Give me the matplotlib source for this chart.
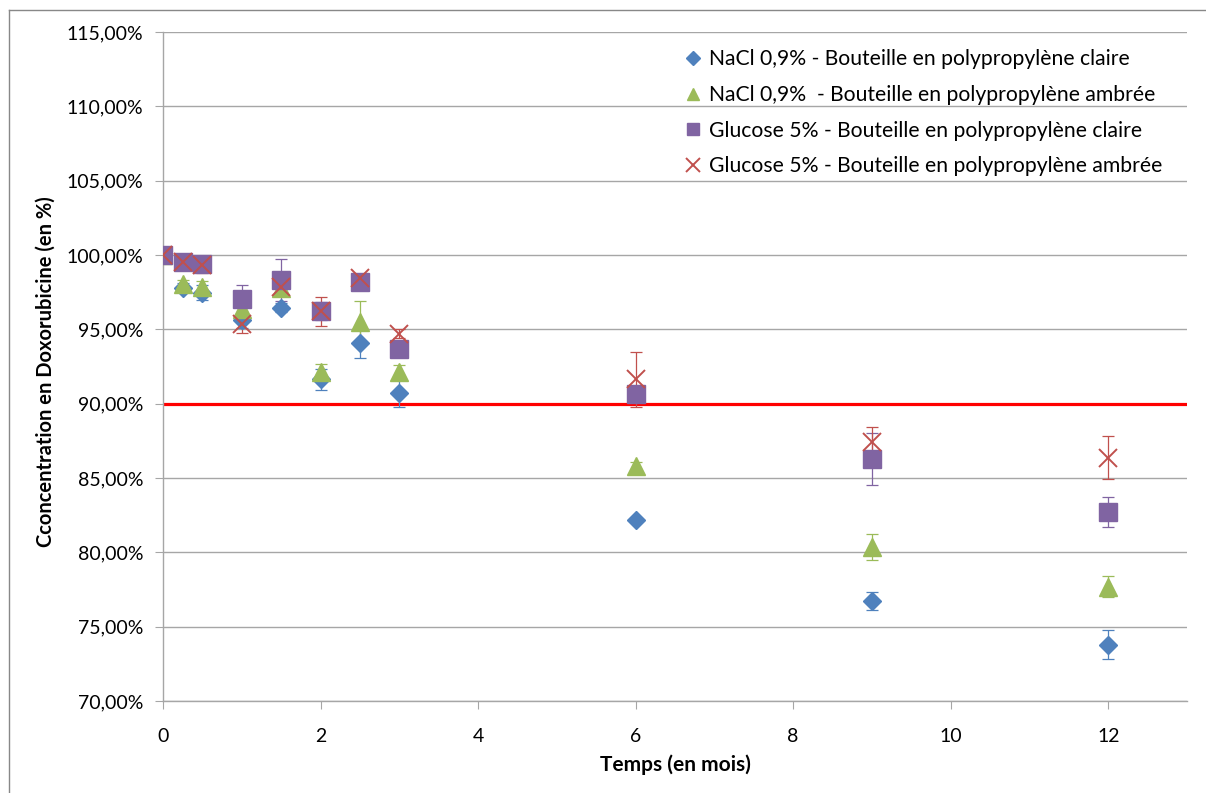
import matplotlib
matplotlib.use("Agg")
import matplotlib.pyplot as plt
from matplotlib.ticker import FuncFormatter, MultipleLocator
from matplotlib.lines import Line2D

plt.rcParams['font.family'] = ['Lato', 'DejaVu Sans']

# Data
temps = [0, 0.25, 0.5, 1, 1.5, 2, 2.5, 3, 6, 9, 12]

nacl_claire = [100.0, 97.8, 97.45, 95.6, 96.45, 91.65, 94.05, 90.75, 82.15, 76.7, 73.8]
nacl_claire_err = [0.1, 0.3, 0.5, 0.5, 0.3, 0.7, 1.0, 0.95, 0.1, 0.6, 1.0]

nacl_ambree = [100.0, 98.05, 97.85, 96.35, 97.8, 92.1, 95.5, 92.1, 85.8, 80.35, 77.7]
nacl_ambree_err = [0.1, 0.3, 0.4, 0.4, 0.3, 0.6, 1.4, 0.5, 0.3, 0.85, 0.7]

gluc_claire = [100.0, 99.5, 99.37, 97.05, 98.3, 96.25, 98.2, 93.65, 90.65, 86.25, 82.7]
gluc_claire_err = [0.1, 0.3, 0.4, 0.95, 1.4, 0.6, 0.4, 0.5, 0.5, 1.75, 1.0]

gluc_ambree = [100.0, 99.5, 99.3, 95.35, 97.85, 96.2, 98.45, 94.7, 91.65, 87.45, 86.35]
gluc_ambree_err = [0.1, 0.3, 0.5, 0.6, 0.4, 1.0, 0.3, 0.3, 1.85, 1.0, 1.45]

labels = ["NaCl 0,9% - Bouteille en polypropylène claire",
          "NaCl 0,9%  - Bouteille en polypropylène ambrée",
          "Glucose 5% - Bouteille en polypropylène claire",
          "Glucose 5% - Bouteille en polypropylène ambrée"]

limit = 90.0

blue = '#4F81BD'
green = '#9BBB59'
purple = '#8064A2'
red = '#C0504D'

fig = plt.figure(figsize=(12.06, 7.93), dpi=100)
ax = fig.add_axes([163/1206, 1-701/793, (1187-163)/1206, (701-32)/793])

# figure border (left/top visible)
fig.add_artist(Line2D([9/1206, 9/1206], [0, 1-10/793], transform=fig.transFigure, color='#888888', lw=1))
fig.add_artist(Line2D([9/1206, 1], [1-10/793, 1-10/793], transform=fig.transFigure, color='#888888', lw=1))

ax.axhline(limit, color='#FF0000', lw=2.3, zorder=2)

series = [
    (nacl_claire, nacl_claire_err, 'D', 9.0, blue, dict(markeredgecolor=blue)),
    (nacl_ambree, nacl_ambree_err, '^', 13.5, green, dict(markeredgecolor=green)),
    (gluc_claire, gluc_claire_err, 's', 12.5, purple, dict(markeredgecolor=purple)),
    (gluc_ambree, gluc_ambree_err, 'x', 13.5, red, dict(markeredgewidth=1.4)),
]
handles = []
for (vals, err, m, ms, c, kw), lab in zip(series, labels):
    ax.errorbar(temps, vals, yerr=err, fmt='none', ecolor=c, elinewidth=0.9,
                capsize=4, capthick=0.9, zorder=3)
    h, = ax.plot(temps, vals, linestyle='none', marker=m, markersize=ms, color=c,
                 label=lab, zorder=4, **kw)
    handles.append(h)

ax.set_xlim(0, 13)
ax.set_ylim(70, 115)
ax.xaxis.set_major_locator(MultipleLocator(2))
ax.yaxis.set_major_locator(MultipleLocator(5))
ax.yaxis.set_major_formatter(FuncFormatter(lambda v, p: f"{v:.2f}".replace('.', ',') + '%'))

ax.grid(axis='y', color='#A6A6A6', lw=1)
ax.set_axisbelow(True)
for s in ['top', 'right']:
    ax.spines[s].set_visible(False)
for s in ['left', 'bottom']:
    ax.spines[s].set_color('#A6A6A6')
    ax.spines[s].set_linewidth(1)
ax.tick_params(axis='both', direction='out', length=5.5, color='#A6A6A6', labelsize=14,
               labelcolor='#000000')
ax.tick_params(axis='y', pad=8.5)
ax.tick_params(axis='x', pad=14)

ax.set_xlabel('Temps (en mois)', fontsize=15, fontweight='bold', labelpad=7)
ax.set_ylabel('Cconcentration en Doxorubicine (en %)', fontsize=14.5, fontweight='bold')
ax.yaxis.set_label_coords(-0.105, 0.493)

leg = ax.legend(handles=handles, loc='upper left', bbox_to_anchor=(676/1206, 1-41/793),
                bbox_transform=fig.transFigure, frameon=False, fontsize=15.2,
                handlelength=0.8, handletextpad=0.35, labelspacing=0.74, borderaxespad=0)
for lh, ms in zip(leg.legend_handles, [7, 9, 9, 10]):
    lh.set_markersize(ms)

fig.savefig('out.png', dpi=100)
